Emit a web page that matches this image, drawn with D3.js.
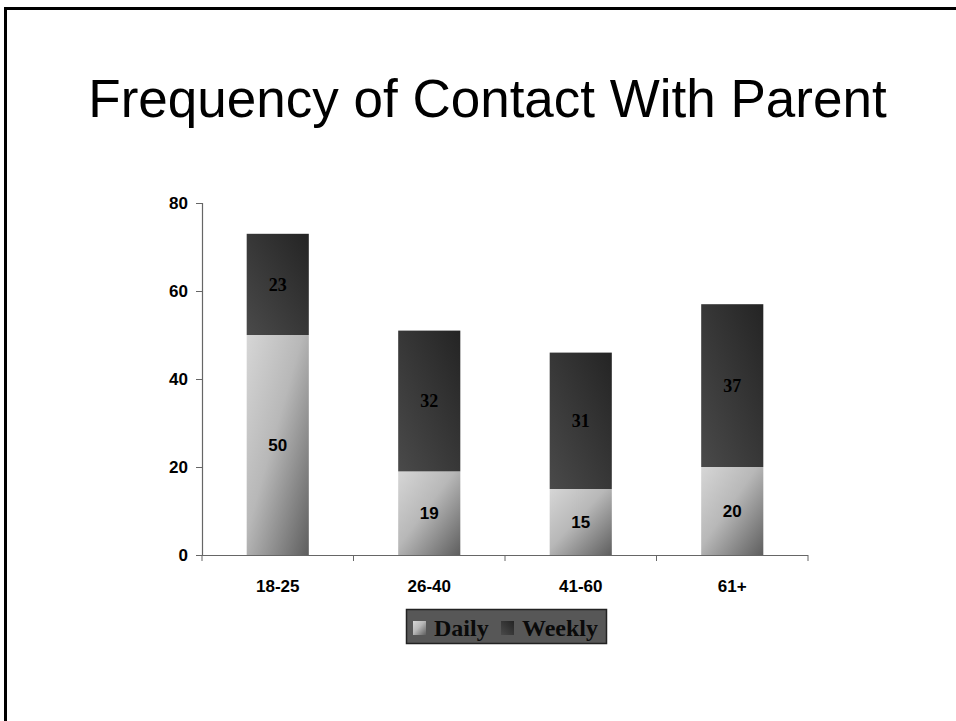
<!DOCTYPE html>
<html><head><meta charset="utf-8">
<script src="https://cdn.jsdelivr.net/npm/d3@7"></script>
<style>html,body{margin:0;padding:0;background:#fff;overflow:hidden}</style>
</head><body>
<script>
const categories = ["18-25", "26-40", "41-60", "61+"];
const daily = [50, 19, 15, 20];
const weekly = [23, 32, 31, 37];
const seriesNames = ["Daily", "Weekly"];
const yTicks = [0, 20, 40, 60, 80];

const W = 956, H = 721;
const svg = d3.select("body").append("svg").attr("width", W).attr("height", H);

const defs = svg.append("defs");
function grad(id, stops, x1, y1, x2, y2) {
  const g = defs.append("linearGradient").attr("id", id)
    .attr("x1", x1).attr("y1", y1).attr("x2", x2).attr("y2", y2);
  stops.forEach(s => g.append("stop").attr("offset", s[0]).attr("stop-color", s[1]));
}
grad("gDaily", [[0, "#d6d6d6"], [0.45, "#b8b8b8"], [1, "#5e5e5e"]], "0%", "0%", "100%", "100%");
grad("gWeekly", [[0, "#4a4a4a"], [1, "#242424"]], "0%", "100%", "100%", "0%");

// slide frame
svg.append("rect").attr("x", 5.5).attr("y", 8.5).attr("width", W + 20).attr("height", H + 20)
  .attr("fill", "none").attr("stroke", "#000").attr("stroke-width", 3);

svg.append("text").attr("x", 487.5).attr("y", 117).attr("text-anchor", "middle")
  .attr("font-family", "Liberation Sans, Arial, sans-serif").attr("font-size", 53)
  .attr("fill", "#000").text("Frequency of Contact With Parent");

const x = d3.scaleBand().domain(categories).range([202, 808]).paddingInner(0.59).paddingOuter(0.295);
const y = d3.scaleLinear().domain([0, 80]).range([555, 203]);

const data = categories.map((c, i) => ({ c, d: daily[i], w: weekly[i] }));

const g = svg.append("g");
g.selectAll(".bd").data(data).enter().append("rect")
  .attr("x", d => x(d.c)).attr("width", x.bandwidth())
  .attr("y", d => y(d.d)).attr("height", d => y(0) - y(d.d))
  .attr("fill", "url(#gDaily)");
g.selectAll(".bw").data(data).enter().append("rect")
  .attr("x", d => x(d.c)).attr("width", x.bandwidth())
  .attr("y", d => y(d.d + d.w)).attr("height", d => y(d.d) - y(d.d + d.w))
  .attr("fill", "url(#gWeekly)");

g.selectAll(".ld").data(data).enter().append("text")
  .attr("x", d => x(d.c) + x.bandwidth() / 2).attr("y", d => y(d.d / 2))
  .attr("dy", "0.36em").attr("text-anchor", "middle")
  .attr("font-family", "Liberation Sans, Arial, sans-serif").attr("font-weight", "bold")
  .attr("font-size", 17).attr("fill", "#000").text(d => d.d);
g.selectAll(".lw").data(data).enter().append("text")
  .attr("x", d => x(d.c) + x.bandwidth() / 2).attr("y", d => y(d.d + d.w / 2))
  .attr("dy", "0.34em").attr("text-anchor", "middle")
  .attr("font-family", "Liberation Serif, Times New Roman, serif").attr("font-weight", "bold")
  .attr("font-size", 18).attr("fill", "#000").text(d => d.w);

// y axis
const yAxis = svg.append("g").attr("transform", "translate(202,0)")
  .call(d3.axisLeft(y).tickValues(yTicks).tickSize(6).tickPadding(8));
yAxis.select(".domain").attr("stroke", "#666").attr("stroke-width", 1.2);
yAxis.selectAll(".tick line").attr("stroke", "#666");
yAxis.selectAll("text").attr("font-family", "Liberation Sans, Arial, sans-serif")
  .attr("font-weight", "bold").attr("font-size", 17).attr("fill", "#000");

// x axis
const xAxis = svg.append("g").attr("transform", "translate(0,555)");
xAxis.append("line").attr("x1", 196).attr("x2", 808).attr("y1", 0.5).attr("y2", 0.5)
  .attr("stroke", "#666").attr("stroke-width", 1.2);
const bounds = [202].concat(categories.map(c => x(c) + x.bandwidth() + x.step() * x.paddingInner() / 2));
bounds[bounds.length - 1] = 808;
xAxis.selectAll(".xt").data(bounds).enter().append("line")
  .attr("x1", d => d).attr("x2", d => d).attr("y1", 0).attr("y2", 6).attr("stroke", "#666");
xAxis.selectAll(".xl").data(categories).enter().append("text")
  .attr("x", d => x(d) + x.bandwidth() / 2).attr("y", 37).attr("text-anchor", "middle")
  .attr("font-family", "Liberation Sans, Arial, sans-serif").attr("font-weight", "bold")
  .attr("font-size", 17).attr("fill", "#000").text(d => d);

// legend
const lg = svg.append("g");
lg.append("rect").attr("x", 406.5).attr("y", 609.5).attr("width", 200).attr("height", 34)
  .attr("fill", "#575757").attr("stroke", "#222").attr("stroke-width", 1.5);
const legItems = [
  { name: seriesNames[0], fill: "url(#gDaily)", sx: 413, tx: 434 },
  { name: seriesNames[1], fill: "url(#gWeekly)", sx: 501, tx: 522 }
];
lg.selectAll(".ls").data(legItems).enter().append("rect")
  .attr("x", d => d.sx).attr("y", 621).attr("width", 13).attr("height", 14)
  .attr("fill", d => d.fill);
lg.selectAll(".lt").data(legItems).enter().append("text")
  .attr("x", d => d.tx).attr("y", 636)
  .attr("font-family", "Liberation Serif, Times New Roman, serif").attr("font-weight", "bold")
  .attr("font-size", 24).attr("fill", "#0a0a0a").text(d => d.name);
</script>
</body></html>
